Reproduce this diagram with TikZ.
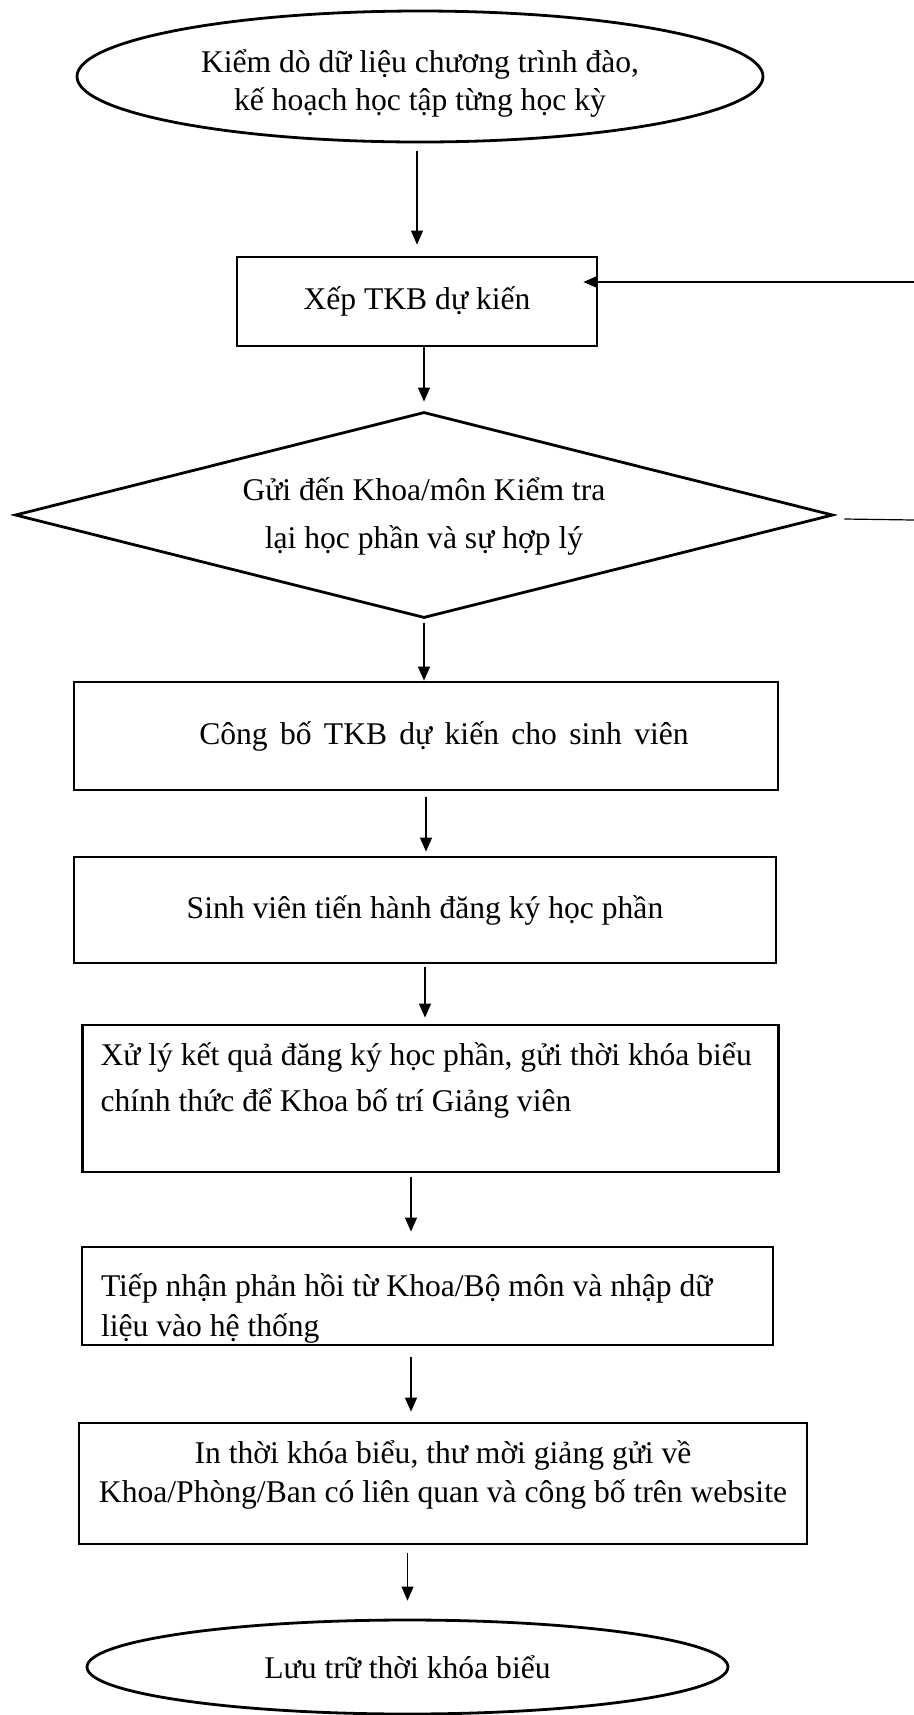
\documentclass[tikz,border=0pt]{standalone}
\usepackage{fontspec}
\setmainfont{Liberation Serif}
\usetikzlibrary{arrows.meta,positioning,shapes.geometric}
\tikzset{
  flow/.style={-{Triangle[length=7pt,width=6pt]},line width=0.6pt},
  plain/.style={line width=0.6pt},
  natural/.style={execute at begin node={\spaceskip=\fontdimen2\font\xspaceskip=\fontdimen2\font}},
  proc/.style={draw,line width=1.4pt,inner sep=4pt,natural,font=\fontsize{15.8}{19.5}\selectfont},
  term/.style={draw,ellipse,line width=1.4pt,inner sep=0pt,align=center,natural,font=\fontsize{15.8}{19}\selectfont},
  dec/.style={draw,diamond,aspect=3.97,line width=1.4pt,inner sep=0pt,align=center,natural,font=\fontsize{15.8}{24}\selectfont}
}

\begin{document}
\begin{tikzpicture}[x=0.5pt,y=-0.5pt]
\useasboundingbox (0,0) rectangle (914,1715);
\node[term,minimum width=343pt,minimum height=65.5pt,text width=226pt,
  text height=12pt,text depth=16pt] (kiemdo) at (420,76.5)
  {\mbox{Kiểm dò dữ liệu chương trình đào,}\\kế hoạch học tập từng học kỳ};
\node[proc,minimum width=180pt,minimum height=44.5pt] (xeptkb) at (417,301.5) {Xếp TKB dự kiến};
\node[dec,minimum width=409pt,minimum height=103pt,text width=186pt,
  text height=12pt,text depth=26.5pt] (guikhoa) at (424,515)
  {\mbox{Gửi đến Khoa/môn Kiểm tra}\\lại học phần và sự hợp lý};
\node[proc,minimum width=352pt,minimum height=54pt,
  execute at begin node={\spaceskip=\dimexpr\fontdimen2\font+2.2pt\relax}] (congbo) at (426,736)
  {\hspace*{18pt}Công bố TKB dự kiến cho sinh viên};
\node[proc,minimum width=351pt,minimum height=53pt] (dangky) at (425,910) {Sinh viên tiến hành đăng ký học phần};
\node[proc,text width=330pt,inner xsep=9pt,align=left,minimum height=73.5pt,
  text height=12pt,text depth=45.5pt,font=\fontsize{15.8}{23}\selectfont] (xuly) at (430.5,1098.5)
  {\mbox{Xử lý kết quả đăng ký học phần, gửi thời khóa biểu}\\chính thức để Khoa bố trí Giảng viên};
\node[proc,text width=326.5pt,inner xsep=9.5pt,align=left,minimum height=49pt,
  text height=12pt,text depth=11.6pt,font=\fontsize{15.8}{20}\selectfont] (tiepnhan) at (427.5,1296)
  {\mbox{Tiếp nhận phản hồi từ Khoa/Bộ môn và nhập dữ}\\liệu vào hệ thống};
\node[proc,text width=360pt,inner xsep=2pt,align=center,minimum height=60.5pt,
  text height=12pt,text depth=32.5pt] (inTKB) at (443,1483.5)
  {In thời khóa biểu, thư mời giảng gửi về\\\mbox{Khoa/Phòng/Ban có liên quan và công bố trên website}};
\node[term,minimum width=320.5pt,minimum height=47pt] (luutru) at (407.5,1667) {Lưu trữ thời khóa biểu};
% ends of the loop lines at the right edge
\coordinate (fbin) at (914,282);
\coordinate (fbout) at (914,520);

\draw[flow,shorten <=4pt,shorten >=5.5pt] (kiemdo.south -| xeptkb.north) -- (xeptkb.north);
\draw[flow,shorten >=4.5pt] (xeptkb.south -| guikhoa.north) -- (guikhoa.north);
\draw[flow,shorten <=2pt] (guikhoa.south) -- (guikhoa.south |- congbo.north);
\draw[flow,shorten <=3pt,shorten >=2pt] (congbo.south) -- (congbo.south |- dangky.north);
\draw[flow,shorten <=1.5pt,shorten >=3pt] (dangky.south) -- (dangky.south |- xuly.north);
\draw[flow,shorten <=2pt,shorten >=7pt] ([xshift=-9.75pt]xuly.south) -- ([xshift=-9.75pt]xuly.south |- tiepnhan.north);
\draw[flow,shorten <=5.5pt,shorten >=5pt] ([xshift=-8.25pt]tiepnhan.south) -- ([xshift=-8.25pt]tiepnhan.south |- inTKB.north);
\draw[flow,shorten <=4pt,shorten >=9pt] (inTKB.south -| luutru.north) -- (luutru.north);
\draw[flow,shorten >=-7.5pt] (fbin) -- (fbin -| xeptkb.east);
\draw[plain] ([xshift=5pt,yshift=-2pt]guikhoa.east) -- (fbout);
\end{tikzpicture}
\end{document}
